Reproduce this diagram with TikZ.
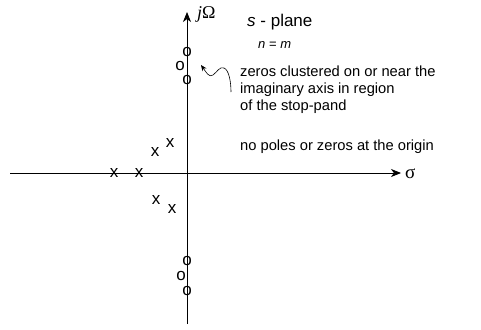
\documentclass[tikz,border=0pt]{standalone}
\usepackage{fontspec}
\setmainfont{Liberation Sans}
\newfontfamily\symfont{Liberation Serif}
\usetikzlibrary{arrows.meta}

\begin{document}
\begin{tikzpicture}[
    x=1pt,y=-1pt,
    axis/.style={line width=0.8pt,-{Stealth[length=10pt,width=8pt,inset=3pt]}},
    mk/.style={inner sep=0pt,font=\fontsize{17}{17}\selectfont},
    note/.style={anchor=west,inner sep=0pt,align=left,font=\fontsize{14.7}{17}\selectfont},
    squig/.style={line width=0.6pt,-{Stealth[length=6pt,width=5pt]}}
  ]
    \useasboundingbox (0,0) rectangle (481,329);
    % axes
    \coordinate (west) at (10,173);
    \coordinate (east) at (401,173);
    \coordinate (south) at (187,324);
    \coordinate (north) at (187,12);
    \draw[axis] (west) -- (east);
    \draw[axis] (south) -- (north);
    \node[anchor=west,inner sep=0pt,font=\symfont\fontsize{19}{19}\selectfont] (sigma) at (405,174) {σ};
    \node[anchor=west,inner sep=0pt,font=\symfont\fontsize{18}{18}\selectfont] (jom) at (197,14) {\textit{j}Ω};
    % zeros
    \node[mk] (z1) at (187,52) {o};
    \node[mk] (z2) at (180,66) {o};
    \node[mk] (z3) at (187,80) {o};
    \node[mk] (z4) at (187,261) {o};
    \node[mk] (z5) at (181,276) {o};
    \node[mk] (z6) at (187,291) {o};
    % poles
    \node[mk] (p1) at (114,173) {x};
    \node[mk] (p2) at (139,173) {x};
    \node[mk] (p3) at (155,152) {x};
    \node[mk] (p4) at (170,143) {x};
    \node[mk] (p5) at (156,200) {x};
    \node[mk] (p6) at (172,209) {x};
    % labels
    \node[note,font=\fontsize{17}{17}\selectfont] (plane) at (247,22) {\textit{s} - plane};
    \node[note,font=\fontsize{13}{13}\selectfont] (nm) at (258,45) {\textit{n} = \textit{m}};
    \node[note,anchor=north west] (zeros) at (240,66) {zeros clustered on or near the\\imaginary axis in region\\of the stop-pand};
    \node[note] (origin) at (240,147) {no poles or zeros at the origin};
    \coordinate (tail) at (231,92);
    \coordinate (tip) at (201,65);
    \draw[squig] (tail) .. controls (231,82) and (229,70) .. (224,68)
      .. controls (220,66) and (217,72) .. (213,75)
      .. controls (209,78) and (206,72) .. (tip);
  \end{tikzpicture}
\end{document}
